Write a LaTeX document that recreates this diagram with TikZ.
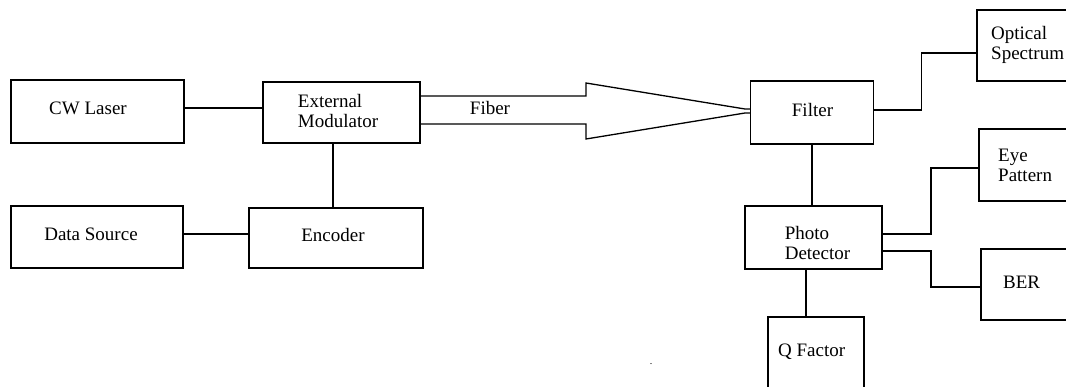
\documentclass[tikz,border=0pt]{standalone}
\usepackage{fontspec}
\setmainfont{Liberation Serif}
\newfontfamily\tnrfont{Liberation Serif}
\begin{document}
\begin{tikzpicture}[x=1pt,y=-1pt,
  blk/.style={draw=black, line width=1.3pt, rectangle, inner sep=0pt, outer sep=0pt},
  lbl/.style={inner sep=0pt, font=\tnrfont\fontsize{19}{20}\selectfont, align=left, text=black},
  wire/.style={draw=black, line width=1.3pt}]
\useasboundingbox (0,0) rectangle (1066,387);
\clip (0,0) rectangle (1066,387);
% boxes
\node[blk, minimum width=173, minimum height=63] (cw)  at (97.5,111.5) {};
\node[blk, minimum width=157, minimum height=61] (em)  at (341.5,112.5) {};
\node[blk, minimum width=172, minimum height=62] (ds)  at (97,237) {};
\node[blk, minimum width=174, minimum height=60] (enc) at (336,238) {};
\node[blk, minimum width=123, minimum height=63] (flt) at (812,112.5) {};
\node[blk, minimum width=120, minimum height=71] (os)  at (1037,45.5) {};
\node[blk, minimum width=120, minimum height=72] (eye) at (1039,165) {};
\node[blk, minimum width=137, minimum height=63] (pd)  at (813.5,237.5) {};
\node[blk, minimum width=120, minimum height=71] (ber) at (1041,284.5) {};
\node[blk, minimum width=96,  minimum height=100] (qf) at (816,367) {};
% labels
\node[lbl] (tcw)  at (88,108) {CW Laser};
\node[lbl] (tem)  at (338,111) {External\\Modulator};
\node[lbl] (tds)  at (91,234) {Data Source};
\node[lbl] (tenc) at (333,235) {Encoder};
\node[lbl] (tflt) at (812.5,110) {Filter};
\node[lbl, anchor=west] (tos) at (991,45) {Optical\\Spectrum};
\node[lbl, anchor=west] (teye) at (998,165) {Eye\\Pattern};
\node[lbl] (tpd)  at (817.5,243) {Photo\\Detector};
\node[lbl, anchor=west] (tber) at (1003,282) {BER};
\node[lbl, anchor=west] (tqf) at (778,352) {Q Factor};
\node[lbl] (tfib) at (490,108) {Fiber};
\node[inner sep=0pt, font=\tnrfont\fontsize{10}{10}\selectfont] (dot) at (651,364) {.};
% connectors
\draw[wire] ([yshift=3.5pt]cw.east) -- ([yshift=3.5pt]cw.east -| em.west);
\draw[wire] ([yshift=3pt]ds.east) -- ([yshift=3pt]ds.east -| enc.west);
\draw[wire] ([xshift=-8.5pt]em.south) -- ([xshift=-8.5pt]em.south |- enc.north);
% fiber arrow
\coordinate (fa) at ([yshift=16.5pt]em.east);
\coordinate (fb) at ([yshift=-11.5pt]em.east);
\draw[wire, line join=miter] (fa) -- (586,96) -- (586,83) -- (745,109) -- ([yshift=3.5pt]flt.west);
\draw[wire, line join=miter] (fb) -- (586,124) -- (586,139) -- (745,113) -- ([yshift=-0.5pt]flt.west);
% receiver side
\draw[wire] ([yshift=2.5pt]flt.east) -- ++(48,0) |- ([yshift=-7.5pt]os.west);
\draw[wire] (flt.south) -- (flt.south |- pd.north);
\draw[wire] ([yshift=3.5pt]pd.east) -- ++(49,0) |- ([yshift=-3pt]eye.west);
\draw[wire] ([yshift=-13.5pt]pd.east) -- ++(49,0) |- ([yshift=-2.5pt]ber.west);
\draw[wire] ([xshift=-7.5pt]pd.south) -- ([xshift=-7.5pt]pd.south |- qf.north);
\end{tikzpicture}
\end{document}
